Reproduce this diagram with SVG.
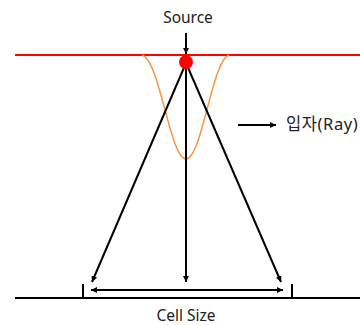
<svg xmlns="http://www.w3.org/2000/svg" width="360" height="325" viewBox="0 0 360 325">
<defs>
<style>
.t{font-family:"Noto Sans","Noto Sans CJK KR",sans-serif;font-size:15.5px;fill:#222}
.ln{stroke:#000;stroke-width:2;fill:none}
</style>
<marker id="ah" viewBox="0 0 10 10" refX="10" refY="5" markerWidth="6" markerHeight="6" orient="auto-start-reverse" markerUnits="userSpaceOnUse">
<path d="M0,0 L10,5 L0,10 z" fill="#000"/>
</marker>
</defs>
<rect width="360" height="325" fill="#fff"/>
<g id="surface">
<line x1="15" y1="55" x2="360" y2="55" stroke="#ff0000" stroke-width="2"/>
</g>
<g id="ground">
<line x1="15" y1="298" x2="360" y2="298" stroke="#000" stroke-width="2"/>
<line x1="83" y1="284" x2="83" y2="298" stroke="#000" stroke-width="2"/>
<line x1="292" y1="284" x2="292" y2="298" stroke="#000" stroke-width="2"/>
</g>
<g id="curve">
<path d="M142,55 C160,60 170,159 186,159 C202,159 212,60 229,55" fill="none" stroke="#f79646" stroke-width="1.5"/>
</g>
<g id="connectors">
<line class="ln" x1="186" y1="33" x2="186" y2="54" marker-end="url(#ah)" stroke-width="1.5"/>
<line class="ln" x1="186" y1="63" x2="92" y2="282" marker-end="url(#ah)"/>
<line class="ln" x1="186" y1="63" x2="186" y2="282" marker-end="url(#ah)"/>
<line class="ln" x1="186" y1="63" x2="281" y2="282" marker-end="url(#ah)"/>
<line class="ln" x1="91" y1="290" x2="283" y2="290" marker-start="url(#ah)" marker-end="url(#ah)"/>
<line class="ln" x1="238" y1="125" x2="276" y2="125" marker-end="url(#ah)" stroke-width="1.5"/>
</g>
<g id="source">
<circle cx="186" cy="62" r="7" fill="#ff0000"/>
<text class="t" x="188" y="23" text-anchor="middle">Source</text>
</g>
<g id="ray">
<text class="t" x="286" y="130" style="font-size:16.5px;letter-spacing:0.6px">입자(Ray)</text>
</g>
<g id="cellsize">
<text class="t" x="186" y="321" text-anchor="middle">Cell Size</text>
</g>
</svg>
